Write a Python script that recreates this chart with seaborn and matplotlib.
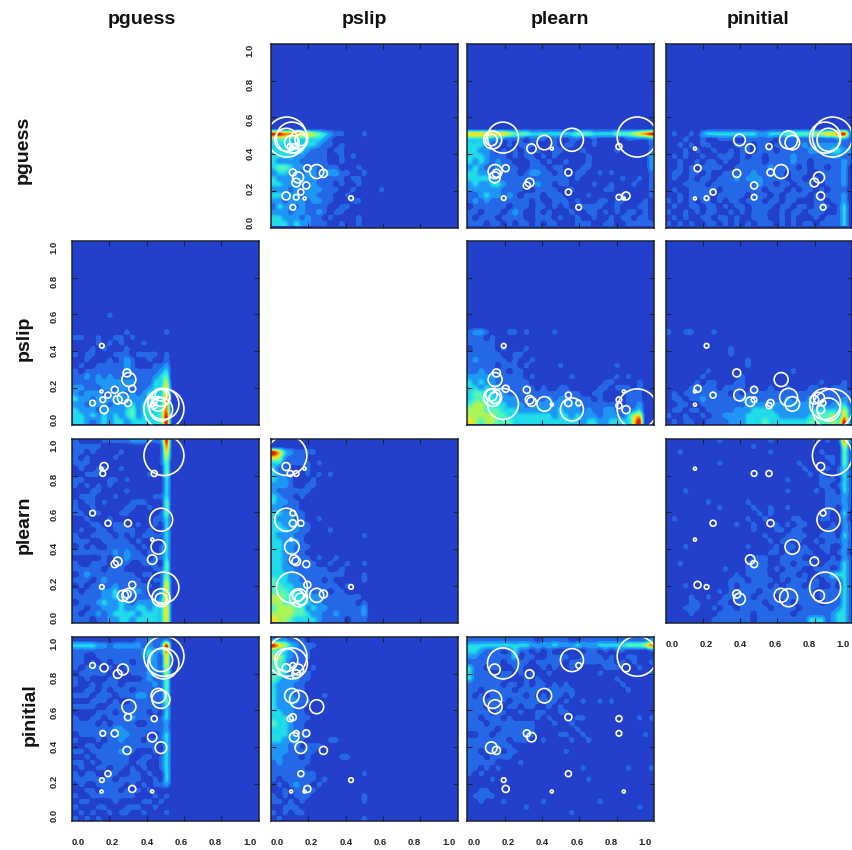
import numpy as np
import pandas as pd
import matplotlib
matplotlib.use("Agg")
import matplotlib.pyplot as plt
from matplotlib.colors import LinearSegmentedColormap
import seaborn as sns

params = ["pguess", "pslip", "plearn", "pinitial"]
tick_labels = ["0.0", "0.2", "0.4", "0.6", "0.8", "1.0"]
ticks = [0.2, 0.4, 0.6, 0.8]

# one circle per skill, same skill in every panel
pguess = [.493, .490, .478, .273, .110, .172, .245, .463, .477, .305, .300, .441, .165, .229, .430, .477, .295, .193, .160, .323, .430, .158]
pslip = [.085, .112, .082, .145, .117, .081, .135, .112, .148, .245, .117, .103, .135, .189, .124, .160, .281, .160, .429, .195, .108, .180]
plearn = [.910, .190, .560, .146, .596, .850, .333, .412, .135, .148, .541, .812, .812, .318, .343, .128, .155, .541, .194, .205, .452, .838]
pinitial = [.895, .856, .874, .823, .845, .832, .798, .680, .660, .620, .563, .555, .475, .475, .454, .397, .382, .255, .220, .172, .158, .158]
radius_px = [20, 15.5, 11.5, 5.5, 2.8, 4, 4.3, 7.3, 9, 7, 3.5, 3, 2.8, 3.5, 4.7, 5.8, 4, 3, 2.3, 3.5, 1.5, 1.5]

# density levels read by eye, rows from y=1 down to y=0, trailing zeros left out
slip_guess = [""] * 16 + [
    "88777665432110001",
    "4443333332100",
    "3333333321101",
    "3333332111011",
    "333322111100101",
    "3222211111001",
    "3443221211110001",
    "23322122122211001",
    "3222222211111011",
    "3322221211101001",
    "22212122211100100001",
    "33222122111001",
    "2212221221100011",
    "1322121111001100",
    "2221221121011",
    "33222121101000010",
    "33323221110010010",
]
learn_guess = [""] * 16 + [
    "666666654443333333344433334445678",
    "333322111101110100110010000011112",
    "333211010111000101100010000000001",
    "332210101010100110001000001000001",
    "333211101011010100000100000000002",
    "323212110001101001000100000000002",
    "232112111001110110001100000000002",
    "332211111012211010011001010000001",
    "333321111111111111010000000100101",
    "232233211101211011000010010001001",
    "222222111100111100100000110000001",
    "112322121011101110000100000100001",
    "121211111110100111010001101100010",
    "011111101110110101001111001000110",
    "110111012100101000100110101011010",
    "101110111100111010010010010110110",
    "111011010110101100011100110011111",
]
initial_guess = [""] * 16 + [
    "010010233333333322333444445566782",
    "000100100111001111101111111111221",
    "001010110000111011011111212222211",
    "000101001001011011101111122223322",
    "010100100111010110111121111112211",
    "001001011010011110111121101111121",
    "001010111100111111211110101101120",
    "011011010011111211111011100111120",
    "010010110111212221111011001011120",
    "000111101111111121101101110011120",
    "010011111011111110111010110101110",
    "001011110111110111010111101011120",
    "101010110101101110110110001101120",
    "010011011010110111101101101110130",
    "100101011001010111001011011100130",
    "010100110110100111001010001011130",
    "101010011010101011101010110111130",
]
learn_slip = [""] * 16 + [
    "1221000110100001",
    "1110100",
    "1111100",
    "0111101000100",
    "11111100110",
    "1211111010010",
    "111110111010000010000000001",
    "1121111011000",
    "22222111110100000010000000101",
    "3232211111100000000000001100001",
    "3323221111110100110000011011101",
    "3443322111111111111100110000111",
    "3444332221111121221111010000111",
    "4554433222112222222211111110112",
    "5554443332222222322212112211123",
    "5555544333333332332322212221356",
    "6545544433333333333323322333368",
]
initial_slip = [""] * 16 + [
    "1001100010",
    "",
    "",
    "000000000001",
    "0000000000010000",
    "00000000000000100",
    "000000000000001",
    "000000010000000000000010",
    "000000100000010000000000000000",
    "00000101100011000000000000010001",
    "000011111011110100100100011001110",
    "010111111110101111111111110111111",
    "011011211111122111111211121111121",
    "001100111111112222222222221212231",
    "011011011111222333322222223333352",
    "100100101122223333332222234445362",
    "010110011112223334333333344445482",
]
initial_learn = [
    "000000000100000000100000001010172",
    "000000000000000100000000000000051",
    "001000000000000000100000000100041",
    "000000000000000000000000000011041",
    "000000000100000000000001000001041",
    "000000000000000000000000100010131",
    "000000000000000000000000010100131",
    "000000000000000000000100000111031",
    "000000000000000000000000000110131",
    "000100000000000000000100001011031",
    "000000000000000000000000000011121",
    "000000010000001000000000000011121",
    "000000000100000100100100000011021",
    "000000000000000010100000000010030",
    "010000000000001001000011000110020",
    "000000000000100100010101100001021",
    "000000000000000100011011000011021",
    "000000000000000001000111100111031",
    "000000000000000000101101001011121",
    "000100000000001000010110100110021",
    "000000000000000000110101110010120",
    "000000000000000111001111001001021",
    "001000000000001111001101110011131",
    "000000000010001111010111001110131",
    "000000000000101111001110100113331",
    "000000000001110111101011101011131",
    "000100000001011111010111011001031",
    "000000000101111101111111110111131",
    "000010010011111011101111110111131",
    "000011000110111110110101111011131",
    "000111001011011111011110111111231",
    "000010000111111011111101111112331",
    "000000001111111011111111133312331",
]

level_colors = ["#2340CC", "#2468E8", "#1E96F5", "#1EDCEB", "#50F5BE", "#AAF55A", "#F5E61E", "#F58C0F", "#D7280F"]

# (x param, y param) -> grid, the mirrored panel is the transpose
grids = {
    ("pslip", "pguess"): slip_guess,
    ("plearn", "pguess"): learn_guess,
    ("pinitial", "pguess"): initial_guess,
    ("plearn", "pslip"): learn_slip,
    ("pinitial", "pslip"): initial_slip,
    ("pinitial", "plearn"): initial_learn,
}


def to_array(rows):
    return np.array([[int(c) for c in r.ljust(33, "0")[:33]] for r in rows], dtype=float)


sns.set_theme(style="white")
plt.rcParams["font.family"] = ["Liberation Sans", "DejaVu Sans"]

# flat steps so the low levels have hard edges like contour bands
nodes = [(0.0, level_colors[0]), (0.52 / 8, level_colors[0]), (0.62 / 8, level_colors[1]),
         (1.35 / 8, level_colors[1]), (1.6 / 8, level_colors[2]), (2.2 / 8, level_colors[2])]
nodes += [(i / 8, level_colors[i]) for i in range(3, 9)]
cmap = LinearSegmentedColormap.from_list("levels", nodes)

df = pd.DataFrame({"pguess": pguess, "pslip": pslip, "plearn": plearn, "pinitial": pinitial})
# scatter sizes are in points^2, radius is in pixels at dpi 100
marker_s = (2 * np.array(radius_px) * 0.72) ** 2

W, H = 852, 850
lefts = [72, 271, 467.5, 665.5]
tops = [44, 241, 439, 637]
pw, ph = 186.5, 183.5
ink = "#1B2333"
guess_shift = 0.008  # the band sits a bit above 0.5

fig = plt.figure(figsize=(8.52, 8.5), dpi=100)

for r, yname in enumerate(params):
    for c, xname in enumerate(params):
        if r == c:
            continue
        ax = fig.add_axes([lefts[c] / W, 1 - (tops[r] + ph) / H, pw / W, ph / H])
        ax.set_facecolor(level_colors[0])
        if (xname, yname) in grids:
            img = to_array(grids[(xname, yname)])
        else:
            img = to_array(grids[(yname, xname)]).T[::-1, ::-1]
        dx = guess_shift if xname == "pguess" else 0
        dy = guess_shift if yname == "pguess" else 0
        ax.imshow(img, extent=(dx, 1 + dx, dy, 1 + dy), origin="upper", cmap=cmap, vmin=0, vmax=8,
                  aspect="auto", interpolation="catrom")
        sns.scatterplot(data=df, x=xname, y=yname, ax=ax, s=marker_s, facecolors="none",
                        edgecolor="white", linewidth=1.2, legend=False)
        ax.set_xlim(0, 1)
        ax.set_ylim(0, 1)
        ax.set(xlabel="", ylabel="")
        ax.set_xticks(ticks)
        ax.set_yticks(ticks)
        ax.tick_params(which="both", direction="in", length=3.5, width=0.8, color=ink,
                       top=True, right=True, bottom=True, left=True,
                       labelbottom=False, labelleft=False)
        for s in ax.spines.values():
            s.set_color(ink)
            s.set_linewidth(1.1)
        # the tick labels do not line up with the ticks in the original
        if r == 3 or (r == 2 and c == 3):
            for i, lab in enumerate(tick_labels):
                ax.text(0.034 + 0.184 * i, -22 / ph, lab, transform=ax.transAxes, ha="center",
                        va="center", fontsize=6.8, fontweight="bold", color="#222222")
        if c == 0 or (r == 0 and c == 1):
            off = -18 if c == 0 else -21
            for i, lab in enumerate(tick_labels):
                ax.text(off / pw, 0.027 + 0.188 * i, lab, transform=ax.transAxes, ha="center",
                        va="center", rotation=90, fontsize=6.8, fontweight="bold", color="#222222")

title_x = [142, 364, 560, 758]
label_x = [23, 24, 24, 30]
label_y = [150, 338, 525, 715]
for i, name in enumerate(params):
    fig.text(title_x[i] / W, 1 - 20 / H, name, ha="center", va="center", fontsize=14, fontweight="bold", color="#111111")
    fig.text(label_x[i] / W, 1 - label_y[i] / H, name, ha="center", va="center", rotation=90, fontsize=14, fontweight="bold", color="#111111")

fig.savefig("out.png", dpi=100)
